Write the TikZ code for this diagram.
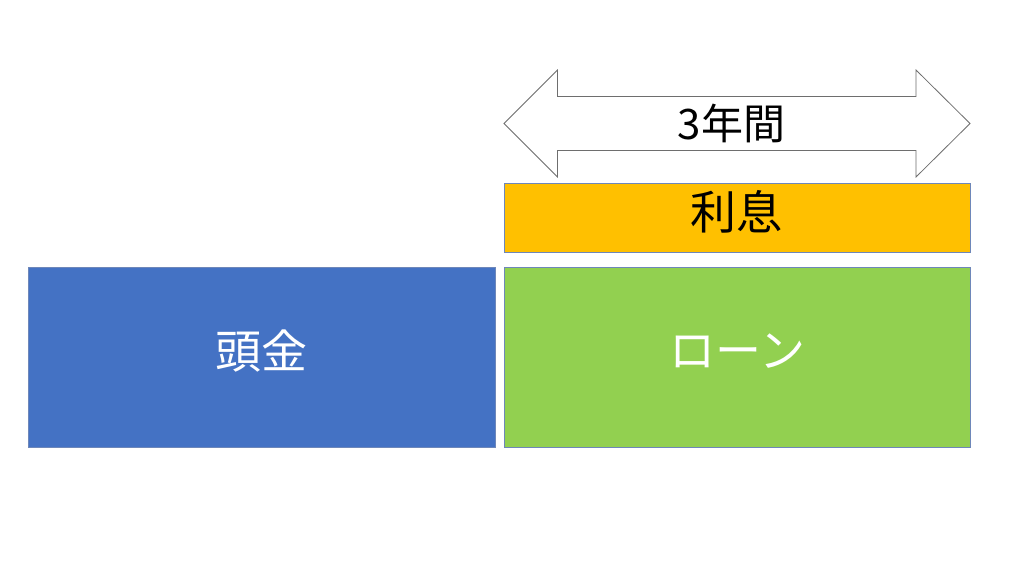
\documentclass[tikz,border=0pt]{standalone}
\usepackage{fontspec}
\newfontfamily\cjk{Noto Sans CJK JP}
\definecolor{boxblue}{RGB}{68,114,196}
\definecolor{boxgreen}{RGB}{146,208,80}
\definecolor{boxorange}{RGB}{255,192,0}
\definecolor{edgeblue}{RGB}{110,135,185}
\definecolor{arrowgray}{RGB}{110,110,110}
\tikzset{
  block/.style={draw=edgeblue, line width=0.8pt, inner sep=0pt},
  lbl/.style={font=\cjk\fontsize{46}{50}\selectfont},
}
\begin{document}
\begin{tikzpicture}[x=1pt,y=-1pt]
\useasboundingbox[fill=white] (0,0) rectangle (1024,576);
% boxes
\draw[block, fill=boxblue] (28.5,267) rectangle (495,447.5);
\draw[block, fill=boxgreen] (504.5,267) rectangle (970,447.5);
\draw[block, fill=boxorange] (504.5,183) rectangle (970,252.5);
\node[lbl, text=white] (head) at (261.75,351) {頭金};
\node[lbl, text=white] (loan) at (737.75,351) {ローン};
\node[lbl, text=black] (interest) at (736.25,212) {利息};
% double arrow
\draw[draw=arrowgray, line width=0.8pt, fill=white, line join=miter]
  (504,123.5) -- (557.5,70) -- (557.5,96.5) -- (916,96.5) -- (916,70)
  -- (970,123.5) -- (916,177) -- (916,150.5) -- (557.5,150.5) -- (557.5,177) -- cycle;
\node[font=\cjk\fontsize{42}{46}\selectfont, text=black] (years) at (731.5,123) {3年間};
\end{tikzpicture}
\end{document}
